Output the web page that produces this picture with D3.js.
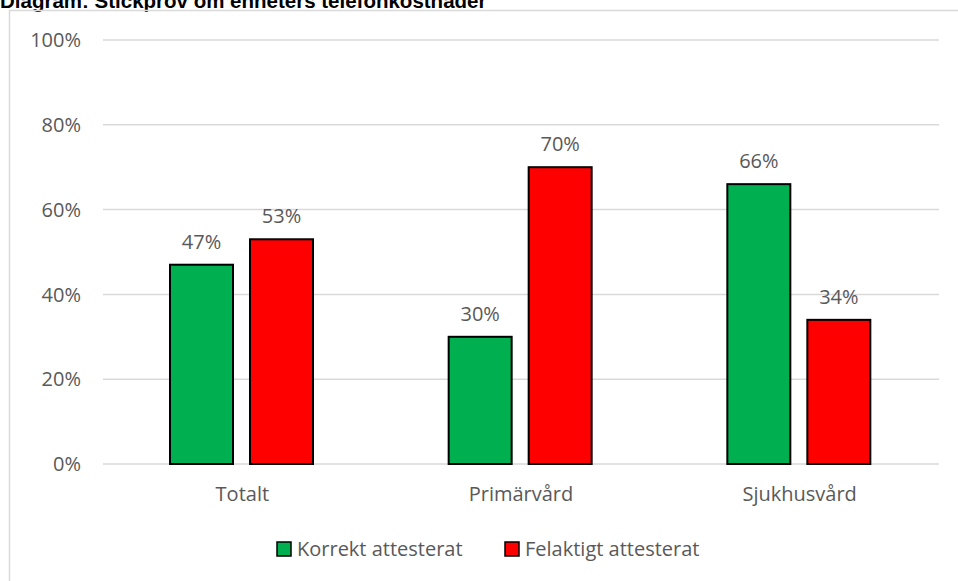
<!DOCTYPE html>
<html>
<head>
<meta charset="utf-8">
<script src="https://cdn.jsdelivr.net/npm/d3@7"></script>
<style>
  body { margin: 0; background: #fff; }
  svg { display: block; }
</style>
</head>
<body>
<div id="chart"></div>
<script>
var width = 958, height = 581;

// data
var categories = ["Totalt", "Primärvård", "Sjukhusvård"];
var seriesNames = ["Korrekt attesterat", "Felaktigt attesterat"];
var korrekt = [47, 30, 66];
var felaktigt = [53, 70, 34];
var yTicks = [0, 20, 40, 60, 80, 100];
var colors = ["#00B050", "#FF0000"];

var plotLeft = 103, plotRight = 939, plotTop = 40, plotBottom = 464;

var svg = d3.select("#chart").append("svg")
  .attr("width", width).attr("height", height);

// title, cut off at the top edge like the picture
svg.append("text")
  .attr("x", 0).attr("y", 8)
  .style("font-family", "Liberation Sans, Arial, sans-serif")
  .style("font-weight", "bold")
  .style("font-size", "20.5px")
  .attr("fill", "#000")
  .text("Diagram: Stickprov om enheters telefonkostnader");

// chart frame (left + top visible)
svg.append("path")
  .attr("d", "M9.5," + height + "V10.5H" + width)
  .attr("fill", "none")
  .attr("stroke", "#d9d9d9")
  .attr("stroke-width", 1.5);

var x0 = d3.scaleBand().domain(categories).range([plotLeft, plotRight]);
// bars 63px wide, 17px apart, starting 67px into each group
var x1 = d3.scaleBand().domain(seriesNames).range([67, 210])
  .paddingInner(0.2125).paddingOuter(0);
var y = d3.scaleLinear().domain([0, 100]).range([plotBottom, plotTop]);

// gridlines
svg.append("g").selectAll("line").data(yTicks).join("line")
  .attr("x1", plotLeft).attr("x2", plotRight)
  .attr("y1", d => y(d)).attr("y2", d => y(d))
  .attr("stroke", "#d9d9d9").attr("stroke-width", 1.5);

// y tick labels
svg.append("g").selectAll("text").data(yTicks).join("text")
  .attr("x", 81).attr("y", d => y(d))
  .attr("dy", "0.36em")
  .attr("text-anchor", "end")
  .style("font-family", "Open Sans, sans-serif")
  .style("font-size", "20px")
  .attr("fill", "#595959")
  .text(d => d + "%");

var rows = [];
categories.forEach(function (c, i) {
  rows.push({ cat: c, s: seriesNames[0], v: korrekt[i], color: colors[0] });
  rows.push({ cat: c, s: seriesNames[1], v: felaktigt[i], color: colors[1] });
});

svg.append("g").selectAll("rect").data(rows).join("rect")
  .attr("x", d => x0(d.cat) + x1(d.s))
  .attr("y", d => y(d.v))
  .attr("width", x1.bandwidth())
  .attr("height", d => y(0) - y(d.v))
  .attr("fill", d => d.color)
  .attr("stroke", "#000")
  .attr("stroke-width", 2);

// value labels
svg.append("g").selectAll("text").data(rows).join("text")
  .attr("x", d => x0(d.cat) + x1(d.s) + x1.bandwidth() / 2)
  .attr("y", d => y(d.v) - 16)
  .attr("text-anchor", "middle")
  .style("font-family", "Open Sans, sans-serif")
  .style("font-size", "20px")
  .attr("fill", "#595959")
  .text(d => d.v + "%");

// category labels
svg.append("g").selectAll("text").data(categories).join("text")
  .attr("x", d => x0(d) + x0.bandwidth() / 2)
  .attr("y", 501)
  .attr("text-anchor", "middle")
  .style("font-family", "Open Sans, sans-serif")
  .style("font-size", "20px")
  .attr("fill", "#595959")
  .text(d => d);

// legend
var legendX = [277, 505];
var legend = svg.append("g").selectAll("g").data(seriesNames).join("g")
  .attr("transform", (d, i) => "translate(" + legendX[i] + ",542)");
legend.append("rect")
  .attr("width", 14).attr("height", 14)
  .attr("fill", (d, i) => colors[i])
  .attr("stroke", "#000").attr("stroke-width", 1.5);
legend.append("text")
  .attr("x", 20).attr("y", 7).attr("dy", "0.36em")
  .style("font-family", "Open Sans, sans-serif")
  .style("font-size", "20px")
  .attr("fill", "#595959")
  .text(d => d);
</script>
</body>
</html>
